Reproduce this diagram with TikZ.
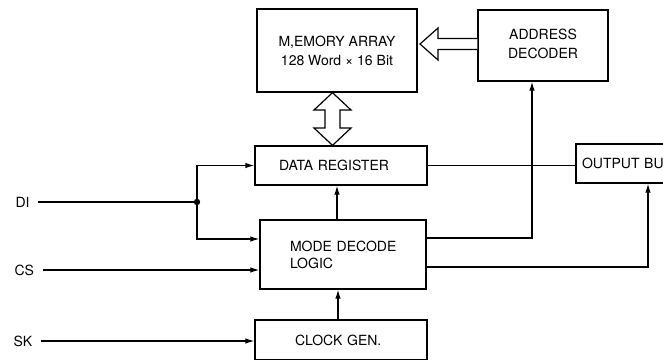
\documentclass[tikz,border=0pt]{standalone}
\usepackage{fontspec}
\setmainfont{TeX Gyre Heros}
\usetikzlibrary{arrows.meta}

\begin{document}
\begin{tikzpicture}[x=1pt, y=-1pt, line width=1.2pt,
    block/.style={draw, line width=1.3pt, inner ysep=0pt, font=\fontsize{14}{19}\selectfont},
    lbl/.style={inner xsep=8pt, font=\fontsize{14}{17}\selectfont},
    sig/.style={-{Latex[length=9pt, width=5.5pt]}},
    hollow/.style={draw, line width=1.2pt, fill=white, line join=miter}]
  \useasboundingbox (0,0) rectangle (663,359);
  \clip (0,0) rectangle (663,359);

  \node[block, minimum width=160pt, minimum height=83pt, align=center] (mem) at (337,50.5)
    {M,EMORY ARRAY\\128 Word × 16 Bit};
  \node[block, minimum width=130pt, minimum height=71pt, align=center] (addr) at (543,45.5)
    {\raisebox{3pt}{ADDRESS}\\\raisebox{3pt}{DECODER}};
  \node[block, text width=124pt, inner xsep=24pt, minimum height=39pt, align=left] (datareg) at (341,165.5)
    {DATA REGISTER};
  \node[block, text width=106pt, inner xsep=30pt, minimum height=69pt, align=left,
    font=\fontsize{14}{17}\selectfont] (mode) at (343,254.5) {\mbox{MODE DECODE}\\LOGIC};
  \node[block, text width=92pt, inner xsep=40pt, minimum height=40pt, align=left] (clock) at (341,340)
    {CLOCK GEN.};
  \node[block, text width=124pt, inner xsep=6pt, minimum height=39pt, align=left] (out) at (644,163.5)
    {OUTPUT BUFFER};

  \node[lbl, anchor=west] (di) at (7,202) {DI};
  \node[lbl, anchor=west] (cs) at (6,270) {CS};
  \node[lbl, anchor=west] (sk) at (5,341) {SK};

  % wide data paths
  \draw[hollow] (addr.west |- 0,38.5) -- (438,38.5) -- (438,28) -- (420,44) -- (438,60)
    -- (438,49.5) -- (addr.west |- 0,49.5);
  \draw[hollow] (mem.south -| 332.5,0) -- (351,110) -- (340,110) -- (340,128) -- (351,128)
    -- (datareg.north -| 332.5,0) -- (314,128) -- (325,128) -- (325,110) -- (314,110) -- cycle;

  % inputs
  \coordinate (j) at (197,202);
  \draw (di) -- (j);
  \fill (j) circle (3.2);
  \draw[sig] (j) |- (datareg.west);
  \draw[sig] (j) |- (mode.west |- 0,239);
  \draw[sig] (cs) -- (mode.west |- cs);
  \draw[sig] (sk) -- (clock.west |- sk);

  \draw[sig] (clock.north -| 338,0) -- (mode.south -| 338,0);
  \draw[sig] (mode.north -| 337,0) -- (datareg.south -| 337,0);
  \draw (datareg.east) -- (datareg.east -| out.west);
  \draw[sig] (mode.east |- 0,238) -| (addr.south -| 532,0);
  \draw[sig] (mode.east |- 0,267) -| (out.south -| 648,0);
\end{tikzpicture}
\end{document}
